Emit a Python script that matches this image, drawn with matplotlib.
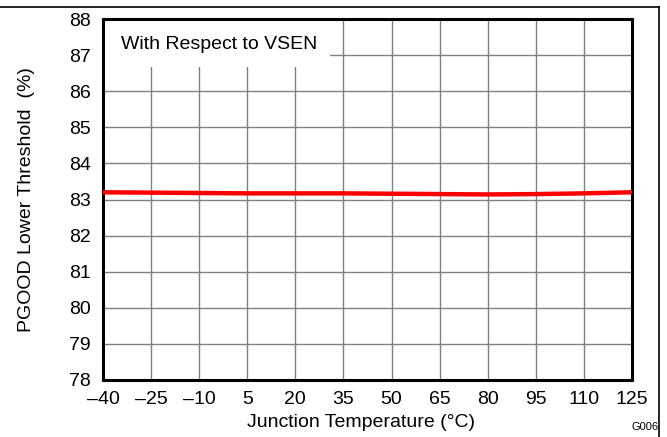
import matplotlib
matplotlib.use('Agg')
import matplotlib.pyplot as plt
from matplotlib.patches import Rectangle
from matplotlib.lines import Line2D

plt.rcParams['font.family'] = ['Liberation Sans', 'DejaVu Sans']

# temperatures (°C) and threshold (%)
temps = [-40, -25, -10, 5, 20, 35, 50, 65, 80, 95, 110, 125]
seuil = [83.20, 83.19, 83.18, 83.17, 83.17, 83.17, 83.16, 83.15, 83.14, 83.15, 83.17, 83.20]
xticks = [-40, -25, -10, 5, 20, 35, 50, 65, 80, 95, 110, 125]
yticks = [78, 79, 80, 81, 82, 83, 84, 85, 86, 87, 88]

fig = plt.figure(figsize=(6.67, 4.37), dpi=100)
ax = fig.add_axes([103/667, 1 - 380/437, 529/667, 361/437])

ax.plot(temps, seuil, color='#ff0000', linewidth=3.2, zorder=3, solid_capstyle='butt')

ax.set_xlim(-40, 125)
ax.set_ylim(78, 88)
ax.set_xticks(xticks)
ax.set_xticklabels([str(t).replace('-', '\u2013') for t in xticks], fontsize=14)
ax.set_yticks(yticks)
ax.set_yticklabels([str(v) for v in yticks], fontsize=14)
ax.tick_params(axis='x', length=0, pad=8)
ax.tick_params(axis='y', length=0, pad=9)
ax.grid(True, color='#808080', linewidth=1.0)
for s in ax.spines.values():
    s.set_linewidth(2.2)
    s.set_color('black')

ax.set_xlabel('Junction Temperature (\u00b0C)', fontsize=14, labelpad=5)
ax.xaxis.set_label_coords(0.487, -0.094)
ax.set_ylabel('PGOOD Lower Threshold  (%)', fontsize=14, labelpad=24)

# boite blanche pour l'annotation
ax.add_patch(Rectangle((-40, 86.68), 70.8, 1.32, facecolor='white', edgecolor='none', zorder=2))
ax.text(-34.3, 87.3, 'With Respect to VSEN', fontsize=14, va='center', ha='left', zorder=4)

fig.text(645/667, 1 - 427/437, 'G006', fontsize=8, ha='center', va='center')

# cadre de la figure
fig.add_artist(Line2D([0, 659/667], [1 - 7/437, 1 - 7/437], color='black', linewidth=1.2))
fig.add_artist(Line2D([659/667, 659/667], [1 - 7/437, 0], color='black', linewidth=1.2))

fig.savefig('out.png', dpi=100)
